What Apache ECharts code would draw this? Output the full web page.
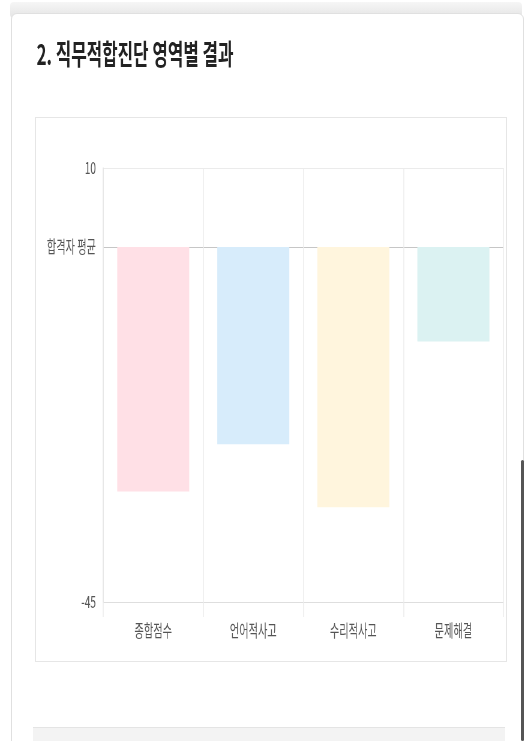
<!DOCTYPE html>
<html>
<head>
<meta charset="utf-8">
<style>
  html, body { margin: 0; padding: 0; background: #fff; overflow: hidden; }
  body { width: 529px; height: 741px; position: relative; font-family: "Noto Sans CJK KR", "Noto Sans", sans-serif; }
  .topband { position: absolute; left: 10px; top: 2px; width: 512px; height: 16px; background: linear-gradient(#f6f6f6, #e4e4e4); border-radius: 4px; }
  .card { position: absolute; left: 11px; top: 13px; width: 511px; height: 800px; background: #fff; border: 1px solid #e0e0e0; border-radius: 6px; }
  .chartbox { position: absolute; left: 35px; top: 117px; width: 470px; height: 543px; border: 1px solid #e6e6e6; background: #fff; }
  .nextbox { position: absolute; left: 33px; top: 727px; width: 472px; height: 20px; background: #f3f3f3; border-top: 1px solid #e4e4e4; }
  .scroll { position: absolute; left: 521px; top: 460px; width: 3px; height: 281px; background: #555; border-radius: 2px; }
  #wrap { position: absolute; left: 0; top: 0; width: 882px; height: 741px; transform: scaleX(0.6); transform-origin: 0 0; }
  #main { width: 882px; height: 741px; }
</style>
</head>
<body>
<div class="topband"></div>
<div class="card"></div>
<div class="chartbox"></div>
<div class="nextbox"></div>
<div class="scroll"></div>
<div id="wrap"><div id="main"></div></div>

<script src="https://cdn.jsdelivr.net/npm/echarts@6/dist/echarts.min.js"></script>
<script>
  // 데이터
  var categories = ['종합점수', '언어적사고', '수리적사고', '문제해결'];
  var scores = [-31, -25, -33, -12];
  var yLabels = { '10': '10', '0': '합격자 평균', '-45': '-45' };

  var barColors = ['#ffe0e6', '#d7ecfb', '#fff5dd', '#dbf2f2'];
  var font = '"Noto Sans CJK KR", "Noto Sans", sans-serif';

  // y축 눈금 -45..10 (5단위), 선은 -45 / 0 / 10 에만
  var lineColors = [];
  for (var v = -45; v <= 10; v += 5) {
    if (v === 0) lineColors.push('#c6c6c6');
    else if (v === 10) lineColors.push('#ebebeb');
    else lineColors.push('rgba(0,0,0,0)');
  }

  var option = {
    animation: false,
    title: {
      text: '2. 직무적합진단 영역별 결과',
      left: 56, top: 33,
      textStyle: { fontFamily: font, fontSize: 28, fontWeight: 'bold', color: '#222', lineHeight: 32 }
    },
    grid: { left: 172, right: 43, top: 168, bottom: 139 },
    xAxis: {
      type: 'category',
      data: categories,
      axisLine: { show: true, onZero: false, lineStyle: { color: '#dedede' } },
      axisTick: { show: true, length: 15, interval: 0, lineStyle: { color: '#ebebeb', width: 1.5 } },
      splitLine: { show: true, interval: 0, lineStyle: { color: '#ebebeb', width: 1.5 } },
      axisLabel: { interval: 0, margin: 20, fontFamily: font, fontSize: 17, color: '#555' }
    },
    yAxis: {
      type: 'value',
      min: -45, max: 10, interval: 5,
      axisLine: { show: true, lineStyle: { color: '#e4e4e4', width: 1.5 } },
      axisTick: { show: false },
      splitLine: { show: true, lineStyle: { color: lineColors } },
      axisLabel: {
        margin: 12, fontFamily: font, fontSize: 17, color: '#555',
        formatter: function (v) { return yLabels[String(v)] || ''; }
      }
    },
    series: [{
      type: 'bar',
      barWidth: '72%',
      data: scores.map(function (s, i) {
        return { value: s, itemStyle: { color: barColors[i] } };
      })
    }]
  };

  var chart = echarts.init(document.getElementById('main'));
  chart.setOption(option);
</script>
</body>
</html>
